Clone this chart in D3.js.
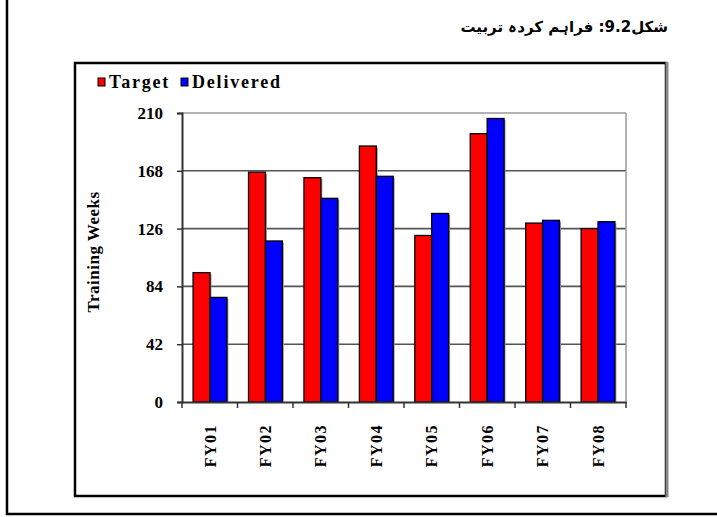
<!DOCTYPE html>
<html>
<head>
<meta charset="utf-8">
<script src="https://cdn.jsdelivr.net/npm/d3@7"></script>
<style>
  body { margin: 0; background: #fff; }
  svg { display: block; }
</style>
</head>
<body>
<div id="chart"></div>
<script>
// chart values
const categories = ["FY01", "FY02", "FY03", "FY04", "FY05", "FY06", "FY07", "FY08"];
const seriesNames = ["Target", "Delivered"];
const targetValues = [94, 167, 163, 186, 121, 195, 130, 126];
const deliveredValues = [76, 117, 148, 164, 137, 206, 132, 131];
const yTicks = [0, 42, 84, 126, 168, 210];
const titleText = "شکل9.2: فراہم کردہ تربیت";
const yTitle = "Training Weeks";

const colors = { Target: "#ff0000", Delivered: "#0000ff" };
const serif = "'Liberation Serif', 'Times New Roman', serif";

const W = 717, H = 517;
const plot = { left: 182, right: 626, top: 113, bottom: 402 };

const svg = d3.select("#chart").append("svg")
  .attr("width", W)
  .attr("height", H);

// outer page frame (left + bottom only)
svg.append("path")
  .attr("d", `M7,0 V514 H${W}`)
  .attr("fill", "none")
  .attr("stroke", "#000")
  .attr("stroke-width", 2.5);

// title (right to left)
svg.append("text")
  .attr("x", 668)
  .attr("y", 32)
  .attr("text-anchor", "end")
  .attr("font-family", "'DejaVu Sans', 'Noto Sans', sans-serif")
  .attr("font-weight", "bold")
  .attr("font-size", 15)
  .text(titleText);

// chart box
svg.append("rect")
  .attr("x", 75).attr("y", 63)
  .attr("width", 591).attr("height", 433)
  .attr("fill", "#fff")
  .attr("stroke", "#000")
  .attr("stroke-width", 2.5);
svg.append("line")
  .attr("x1", 667).attr("x2", 667)
  .attr("y1", 62).attr("y2", 497)
  .attr("stroke", "#888")
  .attr("stroke-width", 3);

// scales
const x0 = d3.scaleBand()
  .domain(categories)
  .range([plot.left, plot.right])
  .paddingInner(0.39)
  .paddingOuter(0.2);

const x1 = d3.scaleBand()
  .domain(seriesNames)
  .range([0, x0.bandwidth()]);

const y = d3.scaleLinear()
  .domain([0, 210])
  .range([plot.bottom, plot.top]);

// grid lines
svg.append("g")
  .selectAll("line")
  .data(yTicks.filter(d => d > 0))
  .join("line")
  .attr("x1", plot.left).attr("x2", plot.right)
  .attr("y1", d => y(d)).attr("y2", d => y(d))
  .attr("stroke", d => d === 210 ? "#999" : "#555")
  .attr("stroke-width", d => d === 210 ? 1.5 : 1.6);

// plot right border
svg.append("line")
  .attr("x1", plot.right).attr("x2", plot.right)
  .attr("y1", plot.top).attr("y2", plot.bottom)
  .attr("stroke", "#999")
  .attr("stroke-width", 1.5);

// bars
const rows = categories.map((c, i) => ({
  cat: c,
  vals: [
    { key: "Target", value: targetValues[i] },
    { key: "Delivered", value: deliveredValues[i] }
  ]
}));

const groups = svg.append("g")
  .selectAll("g")
  .data(rows)
  .join("g")
  .attr("transform", d => `translate(${x0(d.cat)},0)`);

// soft shadow behind the bars
groups.selectAll("rect.shadow")
  .data(d => d.vals)
  .join("rect")
  .attr("class", "shadow")
  .attr("x", d => x1(d.key) + 1.5)
  .attr("y", d => y(d.value) + 1.5)
  .attr("width", x1.bandwidth())
  .attr("height", d => y(0) - y(d.value) - 1.5)
  .attr("fill", "#999");

groups.selectAll("rect.bar")
  .data(d => d.vals)
  .join("rect")
  .attr("class", "bar")
  .attr("x", d => x1(d.key))
  .attr("y", d => y(d.value))
  .attr("width", x1.bandwidth())
  .attr("height", d => y(0) - y(d.value))
  .attr("fill", d => colors[d.key])
  .attr("stroke", "#000")
  .attr("stroke-width", 1.3);

// y axis
const yAxis = svg.append("g")
  .attr("transform", `translate(${plot.left},0)`)
  .call(d3.axisLeft(y).tickValues(yTicks).tickSize(5).tickPadding(14));
yAxis.select(".domain").attr("stroke", "#333").attr("stroke-width", 2);
yAxis.selectAll(".tick line").attr("stroke", "#333").attr("stroke-width", 1.5);
yAxis.selectAll("text")
  .attr("font-family", serif)
  .attr("font-weight", "bold")
  .attr("font-size", 17)
  .attr("fill", "#000");

// x axis: labels only, boundary ticks drawn separately
const xAxis = svg.append("g")
  .attr("transform", `translate(0,${plot.bottom})`)
  .call(d3.axisBottom(x0).tickSize(0).tickSizeOuter(0));
xAxis.select(".domain").attr("stroke", "#333").attr("stroke-width", 2);
xAxis.selectAll("text")
  .attr("font-family", serif)
  .attr("font-weight", "bold")
  .attr("font-size", 16)
  .attr("letter-spacing", 1.5)
  .attr("fill", "#000")
  .attr("text-anchor", "end")
  .attr("dy", "0.35em")
  .attr("transform", "translate(0,22) rotate(-90)")
  .attr("y", 0)
  .attr("x", 0);

const boundaries = d3.range(categories.length + 1)
  .map(i => plot.left + i * x0.step() * (plot.right - plot.left) / (x0.step() * categories.length));
xAxis.selectAll("line.bound")
  .data(boundaries)
  .join("line")
  .attr("class", "bound")
  .attr("x1", d => d).attr("x2", d => d)
  .attr("y1", 0).attr("y2", 6)
  .attr("stroke", "#333")
  .attr("stroke-width", 1.5);

// y title
svg.append("text")
  .attr("transform", "translate(99,252) rotate(-90)")
  .attr("text-anchor", "middle")
  .attr("font-family", serif)
  .attr("font-weight", "bold")
  .attr("font-size", 17)
  .attr("letter-spacing", 0.5)
  .text(yTitle);

// legend
const legend = svg.append("g")
  .selectAll("g")
  .data(seriesNames)
  .join("g")
  .attr("transform", (d, i) => `translate(${i === 0 ? 98 : 181},78)`);
legend.append("rect")
  .attr("width", 7).attr("height", 8)
  .attr("fill", d => colors[d])
  .attr("stroke", "#000")
  .attr("stroke-width", 1);
legend.append("text")
  .attr("x", 11)
  .attr("y", 10)
  .attr("font-family", serif)
  .attr("font-weight", "bold")
  .attr("font-size", 18)
  .attr("letter-spacing", 1.8)
  .text(d => d);
</script>
</body>
</html>
